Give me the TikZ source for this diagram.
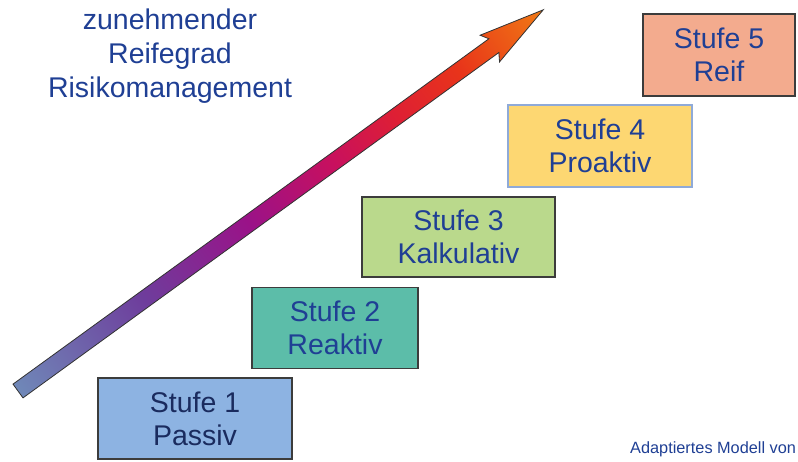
\documentclass[tikz,border=0pt]{standalone}
\usepackage{fontspec}
\setmainfont{Liberation Sans}
\usetikzlibrary{shapes}

\definecolor{stufeA}{HTML}{8DB3E2}
\definecolor{stufeB}{HTML}{5CBDA9}
\definecolor{stufeC}{HTML}{BAD98C}
\definecolor{stufeD}{HTML}{FDD772}
\definecolor{stufeE}{HTML}{F3AB8E}
\definecolor{frame}{HTML}{3C3C3C}
\definecolor{frameD}{HTML}{8FAAD8}
\definecolor{textblue}{HTML}{1F3F94}
\definecolor{textdark}{HTML}{1A2B5E}
% colours along the arrow
\definecolor{rampA}{HTML}{6F88B8}
\definecolor{rampB}{HTML}{6E3D9C}
\definecolor{rampC}{HTML}{9A1288}
\definecolor{rampD}{HTML}{C8105E}
\definecolor{rampE}{HTML}{DE1F34}
\definecolor{rampF}{HTML}{E8341A}
\definecolor{rampG}{HTML}{F07A14}

\pgfdeclarehorizontalshading{riskramp}{100bp}{color(0bp)=(rampA); color(25bp)=(rampA);
  color(37bp)=(rampB); color(47bp)=(rampC); color(55bp)=(rampD);
  color(61bp)=(rampE); color(67bp)=(rampF); color(75bp)=(rampG); color(100bp)=(rampG)}

\tikzset{
  stufe/.style={draw=frame, line width=1.2pt, inner sep=0pt, minimum height=81pt,
    align=center, text=textblue, font=\fontsize{28.5}{33}\selectfont},
  reife/.style={align=center, text=textblue, inner sep=0pt, font=\fontsize{28.5}{34}\selectfont},
  pfeil/.style={draw=black!80, line width=0.8pt, shading=riskramp, line join=miter},
}

\begin{document}
\begin{tikzpicture}[x=1pt,y=1pt]
  \clip (0,0) rectangle (798,461);
% Title
  \node[reife] (titel) at (170,405) {zunehmender\\Reifegrad\\Risikomanagement};
% Arrow
  \coordinate (tail) at (18,70);
  \begin{scope}[transform canvas={rotate around={35.97:(18,70)}}]
    \shadedraw[pfeil] (18,61.5) -- (606,61.5) -- (601,53.5) -- (667,70)
      -- (601,86.5) -- (606,78.5) -- (18,78.5) -- cycle;
  \end{scope}
% Stufen
  \node[stufe, fill=stufeA, minimum width=194pt, text=textdark] (s1) at (195,42.5) {Stufe 1\\Passiv};
  \node[stufe, fill=stufeB, minimum width=166pt] (s2) at (335,133) {Stufe 2\\Reaktiv};
  \node[stufe, fill=stufeC, minimum width=193pt, minimum height=80pt] (s3) at (458.5,224) {Stufe 3\\Kalkulativ};
  \node[stufe, fill=stufeD, draw=frameD, minimum width=184pt, minimum height=82pt] (s4) at (600,315) {Stufe 4\\Proaktiv};
  \node[stufe, fill=stufeE, minimum width=152pt, minimum height=82pt] (s5) at (719,406) {Stufe 5\\Reif};
% Source
  \node[anchor=base west, text=textblue, inner sep=0pt, font=\fontsize{16.3}{20}\selectfont] (quelle) at (630,8) {Adaptiertes Modell von};
\end{tikzpicture}
\end{document}
